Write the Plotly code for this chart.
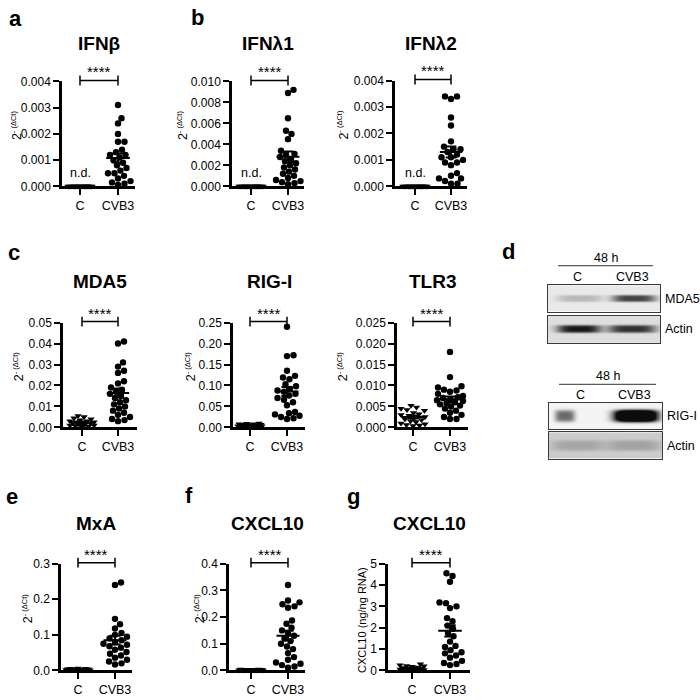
import numpy as np
import plotly.graph_objects as go

W = H = 700
FONT = "Liberation Sans, Arial, sans-serif"

# ---------------- data ----------------
groups = ["C", "CVB3"]

ifnb_c = [0.0] * 18
ifnb_v = [0.0031, 0.0026, 0.0024, 0.0020, 0.0017, 0.0017, 0.0014, 0.0013, 0.0012, 0.0012,
          0.0011, 0.0010, 0.0009, 0.0008, 0.0007, 0.0006, 0.0005, 0.0005, 0.0004, 0.0003,
          0.0002, 0.00015, 0.0001, 0.00005]

ifnl1_c = [0.0] * 18
ifnl1_v = [0.0092, 0.0089, 0.0065, 0.0053, 0.0050, 0.0045, 0.0034, 0.0031, 0.0030, 0.0028,
           0.0026, 0.0024, 0.0022, 0.0020, 0.0018, 0.0016, 0.0014, 0.0012, 0.0010, 0.0008,
           0.0006, 0.0005, 0.0004, 0.0003, 0.0002]

ifnl2_c = [0.0] * 18
ifnl2_v = [0.0034, 0.0034, 0.0033, 0.0026, 0.0023, 0.0017, 0.0015, 0.0014, 0.0014, 0.0013,
           0.0012, 0.0011, 0.0011, 0.0010, 0.0009, 0.0009, 0.0008, 0.0005, 0.0004, 0.0003,
           0.0003, 0.0002, 0.0001, 0.0001]

mda5_c = [0.0055, 0.0050, 0.0045, 0.0040, 0.0035, 0.0030, 0.0030, 0.0025, 0.0025, 0.0020,
          0.0020, 0.0020, 0.0015, 0.0015, 0.0010, 0.0010, 0.0008, 0.0005, 0.0005]
mda5_v = [0.041, 0.040, 0.031, 0.029, 0.027, 0.026, 0.022, 0.021, 0.019, 0.018, 0.017, 0.016,
          0.015, 0.014, 0.013, 0.012, 0.011, 0.010, 0.009, 0.008, 0.007, 0.006, 0.005, 0.004,
          0.0035, 0.003]

rigi_c = [0.010, 0.009, 0.008, 0.008, 0.007, 0.007, 0.006, 0.006, 0.005, 0.005, 0.005, 0.004,
          0.004, 0.004, 0.003, 0.003, 0.003, 0.002, 0.002, 0.002]
rigi_v = [0.240, 0.172, 0.170, 0.135, 0.123, 0.119, 0.115, 0.103, 0.098, 0.092, 0.088, 0.085,
          0.080, 0.076, 0.070, 0.066, 0.060, 0.053, 0.037, 0.034, 0.031, 0.028, 0.025, 0.022,
          0.020]

tlr3_c = [0.0052, 0.0048, 0.0045, 0.0042, 0.0040, 0.0035, 0.0032, 0.0030, 0.0028, 0.0025,
          0.0022, 0.0020, 0.0018, 0.0015, 0.0013, 0.0010, 0.0008, 0.0006, 0.0005, 0.0004]
tlr3_v = [0.018, 0.012, 0.0098, 0.0095, 0.0090, 0.0088, 0.0085, 0.0080, 0.0075, 0.0072, 0.0070,
          0.0068, 0.0065, 0.0063, 0.0060, 0.0058, 0.0055, 0.0052, 0.0050, 0.0045, 0.0040,
          0.0035, 0.0030, 0.0025, 0.0020, 0.0020]

mxa_c = [0.006, 0.005, 0.005, 0.004, 0.004, 0.004, 0.003, 0.003, 0.003, 0.003, 0.002, 0.002,
         0.002, 0.002, 0.001, 0.001, 0.001, 0.001]
mxa_v = [0.247, 0.240, 0.145, 0.130, 0.118, 0.105, 0.100, 0.095, 0.090, 0.085, 0.080, 0.075,
         0.072, 0.068, 0.064, 0.058, 0.052, 0.047, 0.042, 0.036, 0.030, 0.025, 0.020, 0.017]

cxcl10_c = [0.004, 0.004, 0.003, 0.003, 0.003, 0.002, 0.002, 0.002, 0.002, 0.002, 0.001, 0.001,
            0.001, 0.001, 0.001, 0.001]
cxcl10_v = [0.320, 0.262, 0.255, 0.248, 0.240, 0.235, 0.187, 0.175, 0.160, 0.150, 0.140, 0.130,
            0.120, 0.110, 0.100, 0.090, 0.080, 0.065, 0.050, 0.040, 0.030, 0.025, 0.020, 0.015,
            0.010]

cxcl10p_c = [0.30, 0.25, 0.22, 0.20, 0.18, 0.15, 0.12, 0.10, 0.08, 0.06, 0.05, 0.03, 0.02,
             0.01, 0.01]
cxcl10p_v = [4.55, 4.42, 4.15, 3.18, 3.15, 3.00, 2.92, 2.45, 2.30, 2.10, 1.95, 1.75, 1.60, 1.35,
             1.15, 1.10, 0.95, 0.85, 0.80, 0.70, 0.60, 0.45, 0.35, 0.30, 0.25]

controls = [ifnb_c, ifnl1_c, ifnl2_c, mda5_c, rigi_c, tlr3_c, mxa_c, cxcl10_c, cxcl10p_c]
infected = [ifnb_v, ifnl1_v, ifnl2_v, mda5_v, rigi_v, tlr3_v, mxa_v, cxcl10_v, cxcl10p_v]
titles = ["IFNβ", "IFNλ1", "IFNλ2", "MDA5", "RIG-I", "TLR3", "MxA", "CXCL10", "CXCL10"]
y_tops = [0.004, 0.010, 0.004, 0.05, 0.25, 0.025, 0.3, 0.4, 5]
y_dticks = [0.001, 0.002, 0.001, 0.01, 0.05, 0.005, 0.1, 0.1, 1]
y_formats = [".3f", ".3f", ".3f", ".2f", ".2f", ".3f", ".1f", ".1f", ".0f"]
y_titles = ["2<sup><span style='font-size:7.5px'>- (ΔCt)</span></sup>"] * 8 + ["CXCL10 (ng/ng RNA)"]
not_detected = [True, True, True, False, False, False, False, False, False]
significance = ["****"] * 9

# western blot (panel d)
blot_labels = ["MDA5", "Actin", "RIG-I", "Actin"]
blot_background = [233, 222, 244, 204]
blot_band_c = [0.22, 0.95, 0.60, 0.20]
blot_band_v = [0.75, 0.82, 1.80, 0.22]
blot_time = "48 h"

# ---------------- layout geometry (pixels) ----------------
# x0, x1, ytop, ybottom, x of C, x of CVB3
BOX = [(62, 135, 76, 183, 80, 118), (232, 304, 76, 183, 251, 288), (395, 467, 75, 183, 415, 451),
       (63, 137, 322, 429, 82, 118), (233, 305, 322, 429, 250, 287), (397, 468, 322, 429, 413, 450),
       (61, 132, 568, 677, 78, 115), (229, 305, 568, 677, 251, 288), (388, 470, 568, 677, 412, 450)]
TITLE_Y = [37, 37, 37, 280, 280, 280, 527, 527, 527]
YTITLE_X = [16, 182, 343, 18, 190, 342, 27, 199, 362]
LETTERS = [("a", 15, 12), ("b", 197, 11), ("c", 14, 250), ("d", 509, 249), ("e", 12, 499),
           ("f", 189, 498), ("g", 354, 499)]
BLOT_BOX = [(548, 660, 284, 311), (548, 660, 315, 343), (549, 662, 404, 431), (549, 662, 434, 461)]
# C centre, C half-width, CVB3 centre, CVB3 half-width, half-height
BAND_GEOM = [(580, 23, 634, 22, 3.2), (579, 22, 632, 24, 3.6), (565, 10, 636, 22, 6.0),
             (578, 27, 634, 27, 5.0)]

fig = go.Figure()
annotations = []
shapes = []


def px_x(x):
    return x / W


def px_y(y):
    return 1 - y / H


def txt(s, x, y, size=12.0, bold=False, xa="center", ya="middle", angle=0):
    annotations.append(dict(text=f"<b>{s}</b>" if bold else s, x=px_x(x), y=px_y(y),
                            xref="paper", yref="paper", showarrow=False, textangle=angle,
                            font=dict(family=FONT, size=size, color="black"),
                            xanchor=xa, yanchor=ya))


def line(x0, y0, x1, y1, width=1.5, color="black"):
    shapes.append(dict(type="line", xref="paper", yref="paper", x0=px_x(x0), y0=px_y(y0),
                       x1=px_x(x1), y1=px_y(y1), line=dict(color=color, width=width)))


def swarm(vals, ppy, d=6.3, cap=13.0):
    vals = np.asarray(vals, float)
    ys = vals * ppy
    xs = np.zeros(len(vals))
    cands = [0.0]
    k = 1
    while k * 0.5 <= cap:
        cands += [k * 0.5, -k * 0.5]
        k += 1
    placed = []
    for i in np.argsort(vals, kind="stable"):
        best, fallback, fscore = None, 0.0, -1.0
        for cx in cands:
            mind = min((np.hypot(cx - px, ys[i] - py) for px, py in placed), default=1e9)
            if mind >= d:
                best = cx
                break
            if mind > fscore:
                fscore, fallback = mind, cx
        if best is None:
            best = fallback
        xs[i] = best
        placed.append((best, ys[i]))
    return xs


layout_axes = {}
for i in range(9):
    n = i + 1
    xr, yr = ("x", "y") if n == 1 else (f"x{n}", f"y{n}")
    x0, x1, yt, yb, xc, xv = BOX[i]
    unit = xv - xc
    top = y_tops[i]
    ppy = (yb - yt) / top
    for g, vals, sym, cap in ((0, controls[i], "triangle-down", 12.0), (1, infected[i], "circle", 13.0)):
        vals = np.asarray(vals, float)
        off = swarm(vals, ppy, cap=cap) / unit
        fig.add_trace(go.Scatter(x=g + off, y=vals, mode="markers", xaxis=xr, yaxis=yr,
                                 cliponaxis=False, showlegend=False, hoverinfo="skip",
                                 marker=dict(symbol=sym, size=6.4, color="black", line=dict(width=0))))
    for g, vals in ((0, controls[i]), (1, infected[i])):
        vals = np.asarray(vals, float)
        m = vals.mean()
        s = vals.std(ddof=1) / np.sqrt(len(vals)) if len(vals) > 1 else 0.0
        hw, cw = 0.31, 0.15
        xs = [g - hw, g + hw, None, g, g, None, g - cw, g + cw, None, g - cw, g + cw]
        ys = [m, m, None, m - s, m + s, None, m - s, m - s, None, m + s, m + s]
        fig.add_trace(go.Scatter(x=xs, y=ys, mode="lines", xaxis=xr, yaxis=yr, cliponaxis=False,
                                 showlegend=False, hoverinfo="skip",
                                 line=dict(color="black", width=2)))
    ax_x = dict(domain=[px_x(x0), px_x(x1)], range=[(x0 - xc) / unit, (x1 - xc) / unit],
                anchor=yr, showgrid=False, zeroline=False, showline=True, linecolor="black",
                linewidth=2.5, ticks="outside", ticklen=6, tickwidth=2, tickcolor="black",
                tickvals=[0, 1], ticktext=groups,
                tickfont=dict(family=FONT, size=12.5, color="black"), fixedrange=True)
    ax_y = dict(domain=[px_y(yb), px_y(yt)], range=[0, top], anchor=xr, showgrid=False,
                zeroline=False, showline=True, linecolor="black", linewidth=2.5,
                ticks="outside", ticklen=6, tickwidth=2, tickcolor="black",
                tick0=0, dtick=y_dticks[i], tickformat=y_formats[i],
                tickfont=dict(family=FONT, size=12, color="black"), fixedrange=True)
    layout_axes["xaxis" if n == 1 else f"xaxis{n}"] = ax_x
    layout_axes["yaxis" if n == 1 else f"yaxis{n}"] = ax_y

    # significance bracket
    by = yt - 1
    line(xc, by, xv, by, 1.5)
    line(xc, by - 5, xc, by + 5, 1.5)
    line(xv, by - 5, xv, by + 5, 1.5)
    txt(significance[i], (xc + xv) / 2, by + 2, size=15, ya="bottom")
    if not_detected[i]:
        txt("n.d.", xc, yb - 14, size=12.5)
    txt(titles[i], (x0 + x1) / 2, TITLE_Y[i], size=19, bold=True)
    if i < 8:
        txt(y_titles[i], YTITLE_X[i], (yt + yb) / 2 - 9, size=12.5, angle=-90)
    else:
        txt(y_titles[i], YTITLE_X[i], (yt + yb) / 2 + 3, size=11, angle=-90)

for s, x, y in LETTERS:
    txt(s, x, y, size=22, bold=True)

# ---------------- western blots ----------------
bands = [(blot_band_c[j], blot_band_v[j]) for j in range(4)]
for j in range(4):
    n = 10 + j
    bx0, bx1, by0, by1 = BLOT_BOX[j]
    nx, ny = bx1 - bx0, by1 - by0
    cxc, hwc, cxv, hwv, hh = BAND_GEOM[j]
    px = bx0 + np.arange(nx) + 0.5
    py = np.arange(ny) + 0.5
    PX, PY = np.meshgrid(px, py)
    cy = ny / 2
    prof = (bands[j][0] * np.exp(-((PX - cxc) / hwc) ** 4) +
            bands[j][1] * np.exp(-((PX - cxv) / hwv) ** 4)) * np.exp(-((PY - cy) / hh) ** 4 * 0.7)
    prof = np.clip(prof, 0, 1)
    bg = blot_background[j]
    z = bg - prof * (bg - 12)
    fig.add_trace(go.Heatmap(z=z, x=np.arange(nx) + 0.5, y=py, zmin=0, zmax=255,
                             colorscale=[[0, "black"], [1, "white"]], showscale=False,
                             hoverinfo="skip", xaxis=f"x{n}", yaxis=f"y{n}"))
    common = dict(showgrid=False, zeroline=False, showticklabels=False, ticks="",
                  showline=True, mirror=True, linecolor="#3a3a3a", linewidth=1.3, fixedrange=True)
    layout_axes[f"xaxis{n}"] = dict(domain=[px_x(bx0), px_x(bx1)], range=[0, nx], anchor=f"y{n}", **common)
    layout_axes[f"yaxis{n}"] = dict(domain=[px_y(by1), px_y(by0)], range=[ny, 0], anchor=f"x{n}", **common)
    txt(blot_labels[j], bx1 + 3, (by0 + by1) / 2, size=12.5, xa="left")

for (lx0, lx1, ly, ty, gy, gcx, gvx) in [(558, 653, 264, 256, 276, 577, 632),
                                        (559, 656, 385, 377, 396, 580, 634)]:
    line(lx0, ly, lx1, ly, 1.0, "#333333")
    txt(blot_time, (lx0 + lx1) / 2, ty, size=12.5)
    txt(groups[0], gcx, gy, size=12.5)
    txt(groups[1], gvx, gy, size=12.5)

fig.update_layout(width=W, height=H, margin=dict(l=0, r=0, t=0, b=0),
                  paper_bgcolor="white", plot_bgcolor="rgba(0,0,0,0)",
                  annotations=annotations, shapes=shapes, showlegend=False,
                  font=dict(family=FONT, color="black"), **layout_axes)

fig.write_html("out.html", config={"displayModeBar": False},
               post_script="document.body.style.margin='0px';document.body.style.overflow='hidden';")
